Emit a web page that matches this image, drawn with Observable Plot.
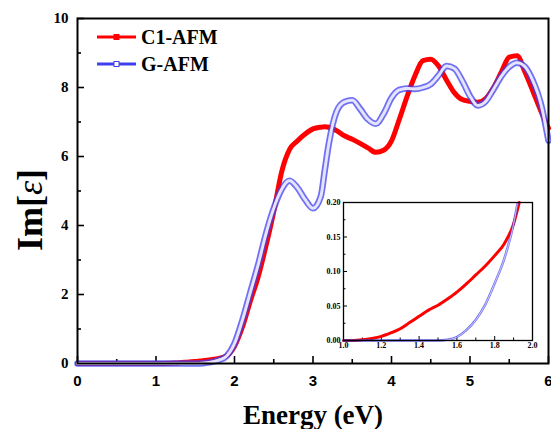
<!DOCTYPE html>
<html><head><meta charset="utf-8">
<script src="https://cdn.jsdelivr.net/npm/d3@7"></script>
<script src="https://cdn.jsdelivr.net/npm/@observablehq/plot@0.6"></script>
<style>
body{margin:0;background:#fff;}
#wrap{position:relative;width:551px;height:429px;overflow:hidden;background:#fff;}
#wrap svg{position:absolute;}
</style></head><body><div id="wrap"></div>
<script>
// ---- data ----
const seriesNames = ["C1-AFM", "G-AFM"];
const energy = [0, 0.5, 1.0, 1.2, 1.3, 1.4, 1.5, 1.6, 1.7, 1.8, 1.9, 2.0, 2.1, 2.2, 2.3, 2.4, 2.5, 2.6, 2.7, 2.8, 2.9, 3.0, 3.1, 3.15, 3.2, 3.3, 3.4, 3.5, 3.6, 3.7, 3.8, 3.9, 4.0, 4.1, 4.2, 4.3, 4.4, 4.5, 4.6, 4.7, 4.8, 4.9, 5.0, 5.1, 5.2, 5.3, 5.4, 5.5, 5.6, 5.7, 5.8, 5.9, 6.0];
const c1afm = [0, 0, 0.0, 0.01, 0.02, 0.04, 0.06, 0.08, 0.11, 0.15, 0.22, 0.5, 1.05, 1.8, 2.5, 3.4, 4.4, 5.55, 6.2, 6.45, 6.65, 6.8, 6.85, 6.86, 6.85, 6.75, 6.6, 6.5, 6.38, 6.25, 6.12, 6.18, 6.45, 7.08, 7.75, 8.35, 8.78, 8.82, 8.62, 8.22, 7.85, 7.65, 7.6, 7.57, 7.68, 8.0, 8.45, 8.88, 8.92, 8.45, 7.9, 7.33, 6.82];
const gafm  = [0, 0, 0.0, 0.0, 0.0, 0.0, 0.0, 0.01, 0.04, 0.1, 0.22, 0.58, 1.25, 2.05, 2.85, 3.75, 4.5, 5.05, 5.3, 5.1, 4.75, 4.5, 4.85, 5.6, 6.35, 7.3, 7.58, 7.63, 7.38, 7.08, 6.95, 7.24, 7.7, 7.93, 7.97, 7.96, 8.0, 8.1, 8.35, 8.62, 8.55, 8.2, 7.75, 7.48, 7.6, 7.95, 8.33, 8.6, 8.72, 8.6, 8.2, 7.55, 6.46];

const insetEnergyC1 = [1.0, 1.05, 1.1, 1.15, 1.2, 1.25, 1.3, 1.35, 1.4, 1.45, 1.5, 1.55, 1.6, 1.65, 1.7, 1.75, 1.8, 1.85, 1.9, 1.93];
const insetC1 = [0, 0, 0.001, 0.003, 0.006, 0.011, 0.017, 0.026, 0.035, 0.044, 0.051, 0.06, 0.07, 0.082, 0.095, 0.108, 0.123, 0.14, 0.169, 0.2];
const insetEnergyG = [1.0, 1.1, 1.2, 1.3, 1.4, 1.5, 1.55, 1.6, 1.65, 1.7, 1.75, 1.8, 1.85, 1.9, 1.92];
const insetG = [0, 0, 0, 0, 0, 0, 0.001, 0.005, 0.015, 0.03, 0.052, 0.083, 0.118, 0.169, 0.198];

const xTicks = [0, 1, 2, 3, 4, 5, 6];
const xMinor = [0.5, 1.5, 2.5, 3.5, 4.5, 5.5];
const yTicks = [0, 2, 4, 6, 8, 10];
const yMinor = [1, 3, 5, 7, 9];
const insetXTicks = [1.0, 1.2, 1.4, 1.6, 1.8, 2.0];
const insetXMinor = [1.1, 1.3, 1.5, 1.7, 1.9];
const insetYTicks = [0, 0.05, 0.10, 0.15, 0.20];
const insetYMinor = [0.025, 0.075, 0.125, 0.175];

const RED = "#ff0000", BLUE = "#4040ee", BLUE_IN = "#e4e4ff";
const SERIF = "Liberation Serif, Times New Roman, serif";
const SANS = "Liberation Sans, Arial, sans-serif";

const red = energy.map((e, i) => ({e, v: c1afm[i]}));
const blue = energy.map((e, i) => ({e, v: gafm[i]}));
const redIn = insetEnergyC1.map((e, i) => ({e, v: insetC1[i]}));
const blueIn = insetEnergyG.map((e, i) => ({e, v: insetG[i]}));

const wrap = document.getElementById("wrap");

const main = Plot.plot({
  width: 551, height: 429,
  marginLeft: 77, marginRight: 3, marginTop: 18, marginBottom: 66,
  style: {background: "transparent", color: "black", overflow: "visible"},
  x: {domain: [0, 6]},
  y: {domain: [0, 10]},
  marks: [
    Plot.axisX(xMinor, {tickSize: -4, text: null, strokeWidth: 1.6, label: null}),
    Plot.axisX(xTicks, {tickSize: -7, tickPadding: 19, strokeWidth: 1.6, fontFamily: SANS, fontWeight: "bold", fontSize: 15, label: null}),
    Plot.axisY(yMinor, {tickSize: -4, text: null, strokeWidth: 1.6, label: null}),
    Plot.axisY(yTicks, {tickSize: -7, tickPadding: 16, strokeWidth: 1.6, fontFamily: SERIF, fontWeight: "bold", fontSize: 15, label: null}),
    Plot.line(red, {x: "e", y: "v", stroke: RED, strokeWidth: 5, curve: "monotone-x"}),
    Plot.line(blue, {x: "e", y: "v", stroke: BLUE, strokeWidth: 6.5, strokeOpacity: 0.75, curve: "monotone-x"}),
    Plot.line(blue, {x: "e", y: "v", stroke: BLUE_IN, strokeWidth: 3, strokeDasharray: "1.6 1", curve: "monotone-x"}),
    Plot.frame({strokeWidth: 2}),
    Plot.text(["Energy (eV)"], {frameAnchor: "bottom", dy: 60, fontFamily: SERIF, fontWeight: "bold", fontSize: 27, fill: "black"})
  ]
});
main.style.left = "0px"; main.style.top = "0px";
wrap.appendChild(main);

// y-axis label with italic epsilon
const ms = d3.select(main);
const yl = ms.append("text")
  .attr("transform", "translate(30,210) rotate(-90)")
  .attr("text-anchor", "middle").attr("dominant-baseline", "central")
  .attr("font-family", SERIF).attr("font-weight", "bold").attr("font-size", 36).attr("fill", "black");
yl.append("tspan").text("Im[");
yl.append("tspan").attr("font-style", "italic").attr("font-weight", "normal").text("ε");
yl.append("tspan").text("]");

// legend
const lg = ms.append("g").attr("text-anchor", "start");
const legendRows = [
  {name: seriesNames[0], color: RED, y: 37, hollow: false},
  {name: seriesNames[1], color: BLUE, y: 64, hollow: true}
];
legendRows.forEach(r => {
  lg.append("line").attr("x1", 97).attr("x2", 136).attr("y1", r.y).attr("y2", r.y)
    .attr("stroke", r.color).attr("stroke-width", 2.8);
  lg.append("rect").attr("x", 114).attr("y", r.y - 2.5).attr("width", 5).attr("height", 5)
    .attr("fill", r.hollow ? "#fff" : r.color).attr("stroke", r.color).attr("stroke-width", 1);
  lg.append("text").attr("x", 141).attr("y", r.y).attr("dominant-baseline", "central").attr("text-anchor", "start")
    .attr("font-family", SERIF).attr("font-weight", "bold").attr("font-size", 20).attr("fill", "black").text(r.name);
});

// inset
const inset = Plot.plot({
  width: 225, height: 158,
  marginLeft: 30, marginRight: 6, marginTop: 6, marginBottom: 14,
  style: {background: "transparent", color: "black", overflow: "visible"},
  x: {domain: [1, 2]},
  y: {domain: [0, 0.2]},
  marks: [
    Plot.axisX(insetXMinor, {tickSize: -2.5, text: null, strokeWidth: 1, label: null}),
    Plot.axisX(insetXTicks, {tickSize: -4, tickPadding: 6, strokeWidth: 1, tickFormat: d3.format(".1f"), fontFamily: SERIF, fontWeight: "bold", fontSize: 8, label: null}),
    Plot.axisY(insetYMinor, {tickSize: -2.5, text: null, strokeWidth: 1, label: null}),
    Plot.axisY(insetYTicks, {tickSize: -4, tickPadding: 7, strokeWidth: 1, tickFormat: d3.format(".2f"), fontFamily: SERIF, fontWeight: "bold", fontSize: 8, label: null}),
    Plot.line(redIn, {x: "e", y: "v", stroke: RED, strokeWidth: 3, curve: "monotone-x"}),
    Plot.line(blueIn, {x: "e", y: "v", stroke: BLUE, strokeWidth: 2.4, strokeOpacity: 0.75, curve: "monotone-x"}),
    Plot.line(blueIn, {x: "e", y: "v", stroke: BLUE_IN, strokeWidth: 0.9, strokeDasharray: "1 0.8", curve: "monotone-x"}),
    Plot.frame({strokeWidth: 1.3})
  ]
});
inset.style.left = "313px"; inset.style.top = "196px";
wrap.appendChild(inset);
</script>
</body></html>
